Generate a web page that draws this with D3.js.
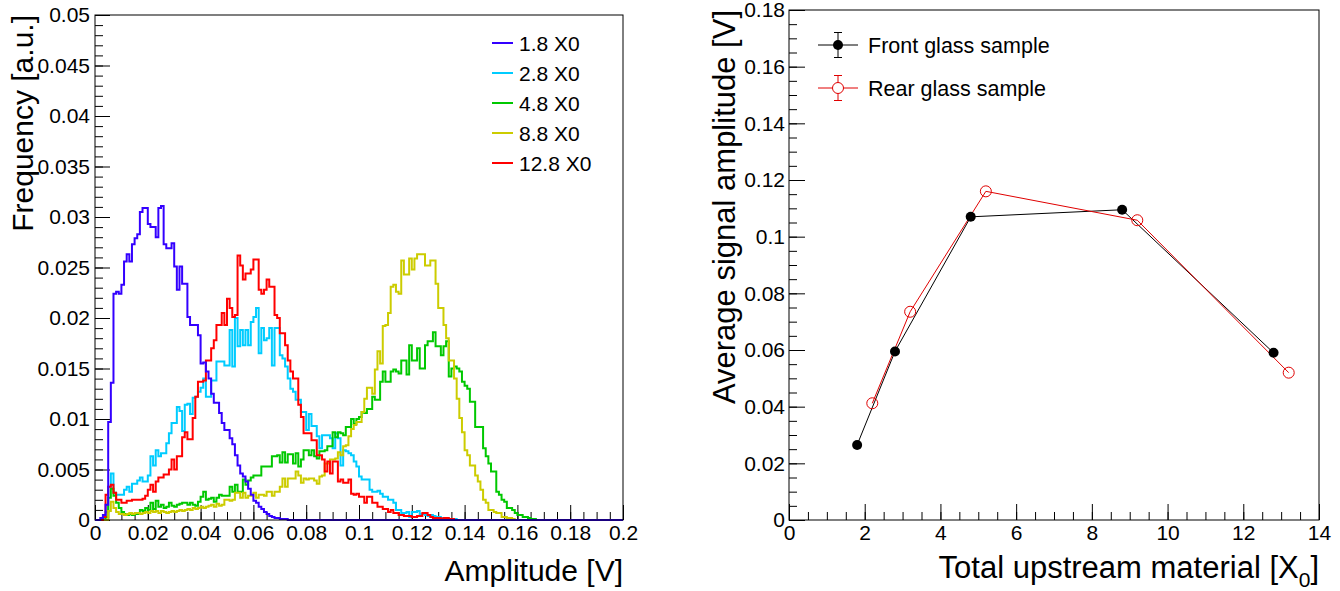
<!DOCTYPE html>
<html><head><meta charset="utf-8">
<script src="https://cdn.jsdelivr.net/npm/d3@7"></script>
<style>
body{margin:0;background:#fff;}
svg{display:block;font-family:"Liberation Sans",Arial,Helvetica,sans-serif;}
</style>
</head><body>
<svg id="c" width="1340" height="591"></svg>
<script>
// ---------- Left panel: amplitude histograms (bin width 0.001 V, bins after the listed ones are empty) ----------
const binWidth = 0.001;
const histRange = [0, 0.2];
const seriesNames = ["1.8 X0", "2.8 X0", "4.8 X0", "8.8 X0", "12.8 X0"];
const seriesColors = ["#3300ff", "#00ccff", "#00c800", "#cccc00", "#ff0000"];

const h1p8 = [0,0,0.0002,0.0005,0.0015,0.0097,0.0136,0.0224,0.0226,0.0224,0.0233,0.0256,0.0263,0.0256,0.0273,0.0279,0.0283,0.0305,0.0309,0.0309,
0.0293,0.0290,0.0290,0.0280,0.0309,0.0311,0.0273,0.0269,0.0269,0.0274,0.0251,0.0228,0.0251,0.0234,0.0234,0.0201,0.0193,0.0193,0.0193,0.0183,
0.0155,0.0156,0.0147,0.0140,0.0125,0.0116,0.0116,0.0106,0.0096,0.0089,0.0089,0.0081,0.0075,0.0064,0.0054,0.0046,0.0043,0.0038,0.0031,0.0025,
0.0019,0.0017,0.0013,0.0011,0.0008,0.0006,0.0004,0.0003,0.0002,0.0002,0.0001,0.0001,0.0001];

const h2p8 = [0,0,0,0.0002,0.0008,0.0033,0.0046,0.0027,0.0025,0.0025,0.0025,0.0030,0.0033,0.0028,0.0036,0.0036,0.0039,0.0042,0.0038,0.0038,
0.0044,0.0063,0.0054,0.0069,0.0063,0.0066,0.0066,0.0076,0.0086,0.0096,0.0096,0.0112,0.0108,0.0088,0.0114,0.0115,0.0105,0.0121,0.0122,0.0127,
0.0131,0.0140,0.0122,0.0122,0.0138,0.0138,0.0157,0.0157,0.0157,0.0153,0.0153,0.0188,0.0152,0.0200,0.0172,0.0188,0.0173,0.0188,0.0173,0.0196,
0.0201,0.0210,0.0165,0.0190,0.0178,0.0180,0.0190,0.0153,0.0190,0.0190,0.0163,0.0160,0.0152,0.0140,0.0130,0.0127,0.0119,0.0119,0.0107,0.0107,
0.0089,0.0105,0.0093,0.0093,0.0083,0.0071,0.0084,0.0084,0.0084,0.0081,0.0071,0.0086,0.0081,0.0054,0.0069,0.0068,0.0066,0.0064,0.0058,0.0053,
0.0043,0.0040,0.0040,0.0040,0.0030,0.0028,0.0028,0.0029,0.0026,0.0023,0.0023,0.0020,0.0020,0.0017,0.0010,0.0010,0.0007,0.0007,0.0008,0.0003,
0.0008,0.0008,0.0009,0.0006,0.0006,0.0005,0.0004,0.0005,0.0004,0.0003,0.0003,0.0002,0.0002,0.0002,0.0001,0.0001,0.0001];

const h4p8 = [0,0,0,0,0.0003,0.0022,0.0031,0.0024,0.0017,0.0012,0.0008,0.0006,0.0005,0.0006,0.0005,0.0006,0.0006,0.0010,0.0009,0.0012,
0.0010,0.0017,0.0011,0.0019,0.0013,0.0015,0.0012,0.0013,0.0017,0.0014,0.0013,0.0015,0.0016,0.0017,0.0017,0.0015,0.0017,0.0015,0.0014,0.0018,
0.0023,0.0028,0.0020,0.0021,0.0022,0.0018,0.0022,0.0025,0.0024,0.0024,0.0024,0.0033,0.0028,0.0035,0.0028,0.0028,0.0040,0.0035,0.0039,0.0042,
0.0044,0.0044,0.0044,0.0053,0.0053,0.0053,0.0053,0.0063,0.0063,0.0064,0.0057,0.0067,0.0057,0.0065,0.0065,0.0056,0.0066,0.0053,0.0060,0.0069,
0.0069,0.0064,0.0069,0.0063,0.0061,0.0068,0.0068,0.0069,0.0073,0.0073,0.0087,0.0082,0.0087,0.0086,0.0084,0.0092,0.0092,0.0100,0.0095,0.0100,
0.0102,0.0107,0.0106,0.0110,0.0110,0.0122,0.0119,0.0119,0.0137,0.0147,0.0137,0.0137,0.0147,0.0149,0.0147,0.0145,0.0158,0.0158,0.0144,0.0173,
0.0158,0.0158,0.0170,0.0150,0.0150,0.0173,0.0177,0.0177,0.0186,0.0172,0.0172,0.0163,0.0172,0.0177,0.0142,0.0150,0.0152,0.0150,0.0147,0.0137,
0.0133,0.0130,0.0117,0.0117,0.0092,0.0092,0.0092,0.0071,0.0063,0.0056,0.0048,0.0048,0.0028,0.0025,0.0020,0.0018,0.0012,0.0012,0.0010,0.0007,
0.0005,0.0005,0.0003,0.0003,0.0002,0.0001,0.0001];

const h8p8 = [0,0,0,0,0,0.0009,0.0018,0.0012,0.0008,0.0006,0.0006,0.0005,0.0006,0.0007,0.0006,0.0007,0.0007,0.0006,0.0007,0.0008,
0.0007,0.0009,0.0008,0.0009,0.0007,0.0009,0.0008,0.0007,0.0008,0.0009,0.0008,0.0009,0.0010,0.0009,0.0010,0.0011,0.0010,0.0012,0.0011,0.0012,
0.0013,0.0012,0.0013,0.0014,0.0015,0.0013,0.0016,0.0014,0.0015,0.0020,0.0020,0.0019,0.0020,0.0027,0.0027,0.0022,0.0027,0.0022,0.0024,0.0024,
0.0027,0.0022,0.0025,0.0025,0.0024,0.0028,0.0028,0.0024,0.0028,0.0028,0.0033,0.0041,0.0033,0.0041,0.0041,0.0041,0.0048,0.0044,0.0037,0.0041,
0.0040,0.0041,0.0041,0.0039,0.0036,0.0043,0.0044,0.0056,0.0056,0.0060,0.0060,0.0061,0.0067,0.0064,0.0073,0.0074,0.0083,0.0090,0.0094,0.0097,
0.0097,0.0107,0.0120,0.0131,0.0131,0.0125,0.0149,0.0167,0.0155,0.0192,0.0193,0.0205,0.0231,0.0233,0.0226,0.0224,0.0257,0.0243,0.0243,0.0259,
0.0248,0.0259,0.0263,0.0263,0.0263,0.0252,0.0252,0.0257,0.0257,0.0234,0.0210,0.0210,0.0193,0.0180,0.0158,0.0158,0.0140,0.0120,0.0101,0.0087,
0.0069,0.0064,0.0054,0.0054,0.0044,0.0038,0.0030,0.0020,0.0017,0.0010,0.0010,0.0008,0.0007,0.0007,0.0003,0.0003,0.0002,0.0002,0.0001];

const h12p8 = [0,0,0,0.0003,0.0025,0.0033,0.0035,0.0027,0.0020,0.0020,0.0017,0.0017,0.0019,0.0019,0.0020,0.0020,0.0020,0.0020,0.0021,0.0024,
0.0030,0.0035,0.0028,0.0038,0.0042,0.0042,0.0045,0.0045,0.0050,0.0060,0.0050,0.0063,0.0063,0.0082,0.0087,0.0080,0.0080,0.0101,0.0122,0.0137,
0.0137,0.0138,0.0158,0.0158,0.0170,0.0178,0.0193,0.0193,0.0205,0.0193,0.0219,0.0210,0.0201,0.0203,0.0262,0.0252,0.0238,0.0244,0.0244,0.0248,
0.0258,0.0258,0.0228,0.0224,0.0228,0.0238,0.0231,0.0231,0.0203,0.0200,0.0185,0.0185,0.0173,0.0158,0.0147,0.0140,0.0140,0.0114,0.0102,0.0086,
0.0086,0.0086,0.0079,0.0079,0.0064,0.0064,0.0060,0.0048,0.0058,0.0046,0.0058,0.0058,0.0038,0.0040,0.0037,0.0037,0.0040,0.0026,0.0025,0.0026,
0.0023,0.0023,0.0017,0.0023,0.0023,0.0017,0.0017,0.0013,0.0013,0.0011,0.0011,0.0008,0.0010,0.0007,0.0007,0.0005,0.0005,0.0004,0.0004,0.0004,
0.0003,0.0003,0.0004,0.0004,0.0007,0.0007,0.0005,0.0003,0.0002,0.0002,0.0002,0.0001,0.0002,0.0002,0.0001,0.0001];

const histSeries = [h1p8, h2p8, h4p8, h8p8, h12p8];

const leftXTicks = [0,0.02,0.04,0.06,0.08,0.1,0.12,0.14,0.16,0.18,0.2];
const leftYTicks = [0,0.005,0.01,0.015,0.02,0.025,0.03,0.035,0.04,0.045,0.05];

// ---------- Right panel: average signal amplitude ----------
const frontX = [1.8, 2.8, 4.8, 8.8, 12.8];
const frontY = [0.0265, 0.0595, 0.107, 0.1095, 0.059];
const rearX  = [2.2, 3.2, 5.2, 9.2, 13.2];
const rearY  = [0.0412, 0.0735, 0.1160, 0.1058, 0.0520];
const rightXTicks = [0,2,4,6,8,10,12,14];
const rightYTicks = [0,0.02,0.04,0.06,0.08,0.1,0.12,0.14,0.16,0.18];
const legendRight = ["Front glass sample", "Rear glass sample"];

// ---------- drawing ----------
const svg = d3.select("#c");
const FS_TICK = 21;
const fmt = d => d === 0 ? "0" : String(+d.toFixed(4));

function range(a, b, step){ const r=[]; for(let v=a; v<=b+step*1e-6; v+=step) r.push(+v.toFixed(6)); return r; }

// Left scales
const xL = d3.scaleLinear().domain(histRange).range([95, 623]);
const yL = d3.scaleLinear().domain([0, 0.05]).range([520, 15]);

function styleAxis(g){
  g.select(".domain").remove();
  g.selectAll(".tick line").attr("stroke", "#000").attr("stroke-width", 1);
  g.selectAll(".tick text").attr("fill", "#000").style("font-size", FS_TICK + "px")
    .style("font-family", '"Liberation Sans",Arial,sans-serif');
}

// minor ticks
svg.append("g").attr("transform", "translate(0,520)")
  .call(d3.axisBottom(xL).tickValues(range(0, 0.2, 0.005)).tickSize(-8).tickFormat(""))
  .call(styleAxis);
svg.append("g").attr("transform", "translate(95,0)")
  .call(d3.axisLeft(yL).tickValues(range(0, 0.05, 0.001)).tickSize(-8).tickFormat(""))
  .call(styleAxis);
// major ticks
svg.append("g").attr("transform", "translate(0,520)")
  .call(d3.axisBottom(xL).tickValues(leftXTicks).tickSize(-15).tickPadding(5).tickFormat(fmt))
  .call(styleAxis);
svg.append("g").attr("transform", "translate(95,0)")
  .call(d3.axisLeft(yL).tickValues(leftYTicks).tickSize(-15).tickPadding(5).tickFormat(fmt))
  .call(styleAxis);

// histograms
const nBins = Math.round((histRange[1] - histRange[0]) / binWidth);
const stepLine = d3.line().x(d => xL(d[0])).y(d => yL(d[1])).curve(d3.curveStepAfter);
const drawOrder = [1, 2, 3, 4, 0];
drawOrder.forEach(si => {
  const vals = histSeries[si];
  const pts = [];
  for (let i = 0; i < nBins; i++) pts.push([histRange[0] + i * binWidth, i < vals.length ? vals[i] : 0]);
  pts.push([histRange[1], pts[pts.length - 1][1]]);
  svg.append("path").attr("d", stepLine(pts)).attr("fill", "none")
    .attr("stroke", seriesColors[si]).attr("stroke-width", 2);
});

// frame
svg.append("rect").attr("x", 95).attr("y", 15).attr("width", 528).attr("height", 505)
  .attr("fill", "none").attr("stroke", "#000").attr("stroke-width", 1);

// left legend
const legY = d3.scalePoint().domain(seriesNames).range([43, 163]);
seriesNames.forEach((n, i) => {
  svg.append("line").attr("x1", 492).attr("x2", 513).attr("y1", legY(n)).attr("y2", legY(n))
    .attr("stroke", seriesColors[i]).attr("stroke-width", 2);
  svg.append("text").attr("x", 519).attr("y", legY(n)).attr("dy", "0.36em")
    .style("font-size", "21px").text(n);
});

// left titles
svg.append("text").attr("x", 623).attr("y", 581).attr("text-anchor", "end")
  .style("font-size", "30px").text("Amplitude [V]");
svg.append("text").attr("transform", "translate(33,15) rotate(-90)").attr("text-anchor", "end")
  .style("font-size", "30px").text("Frequency [a.u.]");

// Right scales
const xR = d3.scaleLinear().domain([0, 14]).range([789, 1319]);
const yR = d3.scaleLinear().domain([0, 0.18]).range([520, 10]);

svg.append("g").attr("transform", "translate(0,520)")
  .call(d3.axisBottom(xR).tickValues(range(0, 14, 0.5)).tickSize(-8).tickFormat(""))
  .call(styleAxis);
svg.append("g").attr("transform", "translate(789,0)")
  .call(d3.axisLeft(yR).tickValues(range(0, 0.18, 0.005)).tickSize(-8).tickFormat(""))
  .call(styleAxis);
svg.append("g").attr("transform", "translate(0,520)")
  .call(d3.axisBottom(xR).tickValues(rightXTicks).tickSize(-16).tickPadding(5).tickFormat(fmt))
  .call(styleAxis);
svg.append("g").attr("transform", "translate(789,0)")
  .call(d3.axisLeft(yR).tickValues(rightYTicks).tickSize(-16).tickPadding(4).tickFormat(fmt))
  .call(styleAxis);

svg.append("rect").attr("x", 789).attr("y", 10).attr("width", xR(14) - 789).attr("height", 510)
  .attr("fill", "none").attr("stroke", "#000").attr("stroke-width", 1);

const lineR = d3.line().x(d => xR(d[0])).y(d => yR(d[1]));
const frontPts = frontX.map((x, i) => [x, frontY[i]]);
const rearPts = rearX.map((x, i) => [x, rearY[i]]);
svg.append("path").attr("d", lineR(frontPts)).attr("fill", "none").attr("stroke", "#000").attr("stroke-width", 1);
svg.append("path").attr("d", lineR(rearPts)).attr("fill", "none").attr("stroke", "#e00000").attr("stroke-width", 1);
svg.selectAll(".fp").data(frontPts).enter().append("circle")
  .attr("cx", d => xR(d[0])).attr("cy", d => yR(d[1])).attr("r", 5).attr("fill", "#000");
svg.selectAll(".rp").data(rearPts).enter().append("circle")
  .attr("cx", d => xR(d[0])).attr("cy", d => yR(d[1])).attr("r", 5.5)
  .attr("fill", "none").attr("stroke", "#e00000").attr("stroke-width", 1);

// right legend
const legR = [{y: 45, c: "#000", filled: true}, {y: 88, c: "#e00000", filled: false}];
legR.forEach((e, i) => {
  const g = svg.append("g");
  g.append("line").attr("x1", 818).attr("x2", 858).attr("y1", e.y).attr("y2", e.y).attr("stroke", e.c);
  g.append("line").attr("x1", 838).attr("x2", 838).attr("y1", e.y - 12.5).attr("y2", e.y + 12.5).attr("stroke", e.c);
  g.append("line").attr("x1", 834).attr("x2", 842).attr("y1", e.y - 12.5).attr("y2", e.y - 12.5).attr("stroke", e.c);
  g.append("line").attr("x1", 834).attr("x2", 842).attr("y1", e.y + 12.5).attr("y2", e.y + 12.5).attr("stroke", e.c);
  if (e.filled) g.append("circle").attr("cx", 838).attr("cy", e.y).attr("r", 5).attr("fill", e.c);
  else g.append("circle").attr("cx", 838).attr("cy", e.y).attr("r", 5.5).attr("fill", "#fff").attr("stroke", e.c);
  g.append("text").attr("x", 868).attr("y", e.y).attr("dy", "0.36em").style("font-size", "21.5px").text(legendRight[i]);
});

// right titles
const xt = svg.append("text").attr("x", xR(14)).attr("y", 578).attr("text-anchor", "end")
  .style("font-size", "31px");
xt.append("tspan").text("Total upstream material [X");
xt.append("tspan").attr("dy", 9).style("font-size", "21px").text("0");
xt.append("tspan").attr("dy", -9).text("]");
svg.append("text").attr("transform", "translate(735,10) rotate(-90)").attr("text-anchor", "end")
  .style("font-size", "31px").text("Average signal amplitude [V]");
</script>
</body></html>
